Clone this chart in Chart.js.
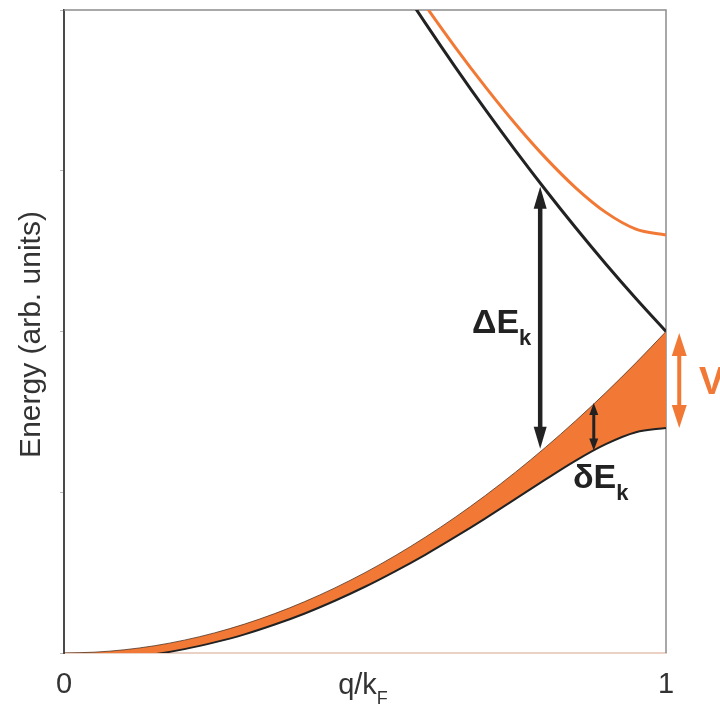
<!DOCTYPE html>
<html>
<head>
<meta charset="utf-8">
<script src="https://cdn.jsdelivr.net/npm/chart.js@4.4.1/dist/chart.umd.min.js"></script>
<style>
  html, body { margin: 0; padding: 0; background: #fff; }
  #plot { display: block; }
</style>
</head>
<body>
<canvas id="plot" width="720" height="712"></canvas>
<script>
// ── Dispersion data (q in units of k_F, energy in arb. units) ──
const qValues = [0, 0.05, 0.1, 0.15, 0.2, 0.25, 0.3, 0.35, 0.4, 0.45, 0.5,
                 0.55, 0.6, 0.65, 0.7, 0.75, 0.8, 0.85, 0.9, 0.95, 1.0];

// free branch, top edge of the shaded band
const bandTop = [0, 0.005, 0.02, 0.045, 0.08, 0.125, 0.18, 0.245, 0.32, 0.405, 0.5,
                 0.605, 0.72, 0.845, 0.98, 1.125, 1.28, 1.445, 1.62, 1.805, 2.0];

// split lower branch, bottom edge of the shaded band
const bandBottom = [-0.045, -0.042, -0.030, -0.008, 0.024, 0.066, 0.116, 0.177, 0.246, 0.325, 0.412,
                    0.508, 0.611, 0.722, 0.838, 0.959, 1.080, 1.197, 1.299, 1.373, 1.400];

// folded free branch (black, coming down from the top)
const foldedFree = [8.0, 7.605, 7.22, 6.845, 6.48, 6.125, 5.78, 5.445, 5.12, 4.805, 4.5,
                    4.205, 3.92, 3.645, 3.38, 3.125, 2.88, 2.645, 2.42, 2.205, 2.0];

// split upper branch (orange)
const upperBranch = [8.045, 7.652, 7.270, 6.898, 6.536, 6.184, 5.844, 5.513, 5.194, 4.885, 4.588,
                     4.302, 4.029, 3.768, 3.522, 3.291, 3.080, 2.894, 2.741, 2.637, 2.600];

const xTickValues = [0, 1];
const yTickValues = [0, 1, 2, 3, 4];

// double arrows: [q, lower energy, upper energy]
const gapArrow   = [0.791, 1.27, 2.90];   // ΔE_k
const splitArrow = [0.880, 1.26, 1.555];  // δE_k
const potArrow   = [1.022, 1.40, 1.99];   // V

const ORANGE = '#f27935';
const INK    = '#222222';
const FONT   = "'Liberation Sans', Arial, sans-serif";

const toPoints = ys => qValues.map((q, i) => ({ x: q, y: ys[i] }));

function doubleArrow(ctx, x, yTop, yBot, color, lw, headLen, headW) {
  ctx.save();
  ctx.strokeStyle = color;
  ctx.fillStyle = color;
  ctx.lineWidth = lw;
  ctx.beginPath();
  ctx.moveTo(x, yTop + headLen - 2);
  ctx.lineTo(x, yBot - headLen + 2);
  ctx.stroke();
  ctx.beginPath();
  ctx.moveTo(x, yTop);
  ctx.lineTo(x - headW / 2, yTop + headLen);
  ctx.lineTo(x + headW / 2, yTop + headLen);
  ctx.closePath();
  ctx.fill();
  ctx.beginPath();
  ctx.moveTo(x, yBot);
  ctx.lineTo(x - headW / 2, yBot - headLen);
  ctx.lineTo(x + headW / 2, yBot - headLen);
  ctx.closePath();
  ctx.fill();
  ctx.restore();
}

function subText(ctx, main, sub, x, baseline, mainFont, subFont, drop, color) {
  ctx.save();
  ctx.fillStyle = color;
  ctx.textAlign = 'left';
  ctx.textBaseline = 'alphabetic';
  ctx.font = mainFont;
  ctx.fillText(main, x, baseline);
  const w = ctx.measureText(main).width;
  ctx.font = subFont;
  ctx.fillText(sub, x + w, baseline + drop);
  ctx.restore();
}

// frame, arrows and labels
const decorations = {
  id: 'decorations',
  beforeDatasetsDraw(chart) {
    const { ctx, chartArea: { left, right, top, bottom } } = chart;
    ctx.save();
    ctx.strokeStyle = '#8c8c8c';
    ctx.lineWidth = 1.5;
    ctx.beginPath();
    ctx.moveTo(left, top);
    ctx.lineTo(right, top);
    ctx.lineTo(right, bottom);
    ctx.stroke();
    ctx.restore();
  },
  afterDraw(chart) {
    const { ctx, scales: { x, y }, chartArea: { left, right, top, bottom } } = chart;

    const arrow = (a, color, lw, hl, hw) =>
      doubleArrow(ctx, x.getPixelForValue(a[0]), y.getPixelForValue(a[2]),
                  y.getPixelForValue(a[1]), color, lw, hl, hw);
    arrow(gapArrow, INK, 4.5, 22, 13);
    arrow(splitArrow, INK, 3, 12, 9);
    arrow(potArrow, ORANGE, 4, 23, 15);

    subText(ctx, 'ΔE', 'k', 472, 333, `bold 34px ${FONT}`, `bold 22px ${FONT}`, 12, INK);
    subText(ctx, 'δE', 'k', 573, 488, `bold 34px ${FONT}`, `bold 22px ${FONT}`, 12, INK);

    ctx.save();
    ctx.fillStyle = ORANGE;
    ctx.font = `bold 38px ${FONT}`;
    ctx.textAlign = 'left';
    ctx.fillText('V', 699, 394);
    ctx.restore();

    // axis titles
    ctx.save();
    ctx.fillStyle = '#333';
    ctx.font = `29px ${FONT}`;
    const main = 'q/k';
    const wMain = ctx.measureText(main).width;
    ctx.font = `18px ${FONT}`;
    const wSub = ctx.measureText('F').width;
    const cx = (left + right) / 2 - 2;
    subText(ctx, main, 'F', cx - (wMain + wSub) / 2, 694, `29px ${FONT}`, `18px ${FONT}`, 10, '#333');

    ctx.translate(40, (top + bottom) / 2 + 3);
    ctx.rotate(-Math.PI / 2);
    ctx.font = `30px ${FONT}`;
    ctx.textAlign = 'center';
    ctx.textBaseline = 'alphabetic';
    ctx.fillText('Energy (arb. units)', 0, 0);
    ctx.restore();
  }
};

new Chart(document.getElementById('plot').getContext('2d'), {
  type: 'line',
  data: {
    datasets: [
      {
        label: 'band top',
        data: toPoints(bandTop),
        borderColor: 'rgba(70,45,30,0.75)',
        borderWidth: 1,
        pointRadius: 0,
        cubicInterpolationMode: 'monotone',
        fill: false,
      },
      {
        label: 'band bottom',
        data: toPoints(bandBottom),
        borderColor: INK,
        borderWidth: 2,
        pointRadius: 0,
        cubicInterpolationMode: 'monotone',
        backgroundColor: ORANGE,
        fill: '-1',
      },
      {
        label: 'folded branch',
        data: toPoints(foldedFree),
        borderColor: INK,
        borderWidth: 3,
        pointRadius: 0,
        cubicInterpolationMode: 'monotone',
        fill: false,
      },
      {
        label: 'upper branch',
        data: toPoints(upperBranch),
        borderColor: ORANGE,
        borderWidth: 3,
        pointRadius: 0,
        cubicInterpolationMode: 'monotone',
        fill: false,
      },
    ]
  },
  options: {
    responsive: false,
    devicePixelRatio: 1,
    animation: false,
    layout: { padding: { top: 10, right: 54, left: 0, bottom: 0 } },
    plugins: { legend: { display: false }, tooltip: { enabled: false } },
    scales: {
      x: {
        type: 'linear',
        min: 0, max: 1,
        afterBuildTicks: s => { s.ticks = xTickValues.map(v => ({ value: v })); },
        afterFit: s => { s.height = 59; },
        grid: { display: false, drawTicks: false },
        border: { display: true, color: '#ebd1c3', width: 2 },
        ticks: {
          color: '#333',
          font: { family: FONT, size: 29 },
          padding: 15,
          maxRotation: 0,
          callback: v => String(v),
        }
      },
      y: {
        type: 'linear',
        min: 0, max: 4,
        afterBuildTicks: s => { s.ticks = yTickValues.map(v => ({ value: v })); },
        afterFit: s => { s.width = 64; },
        grid: { drawOnChartArea: false, drawTicks: true, tickLength: 4, color: '#b8b8b8' },
        border: { display: true, color: '#4a4a4a', width: 2 },
        ticks: { display: false }
      }
    }
  },
  plugins: [decorations]
});
</script>
</body>
</html>
